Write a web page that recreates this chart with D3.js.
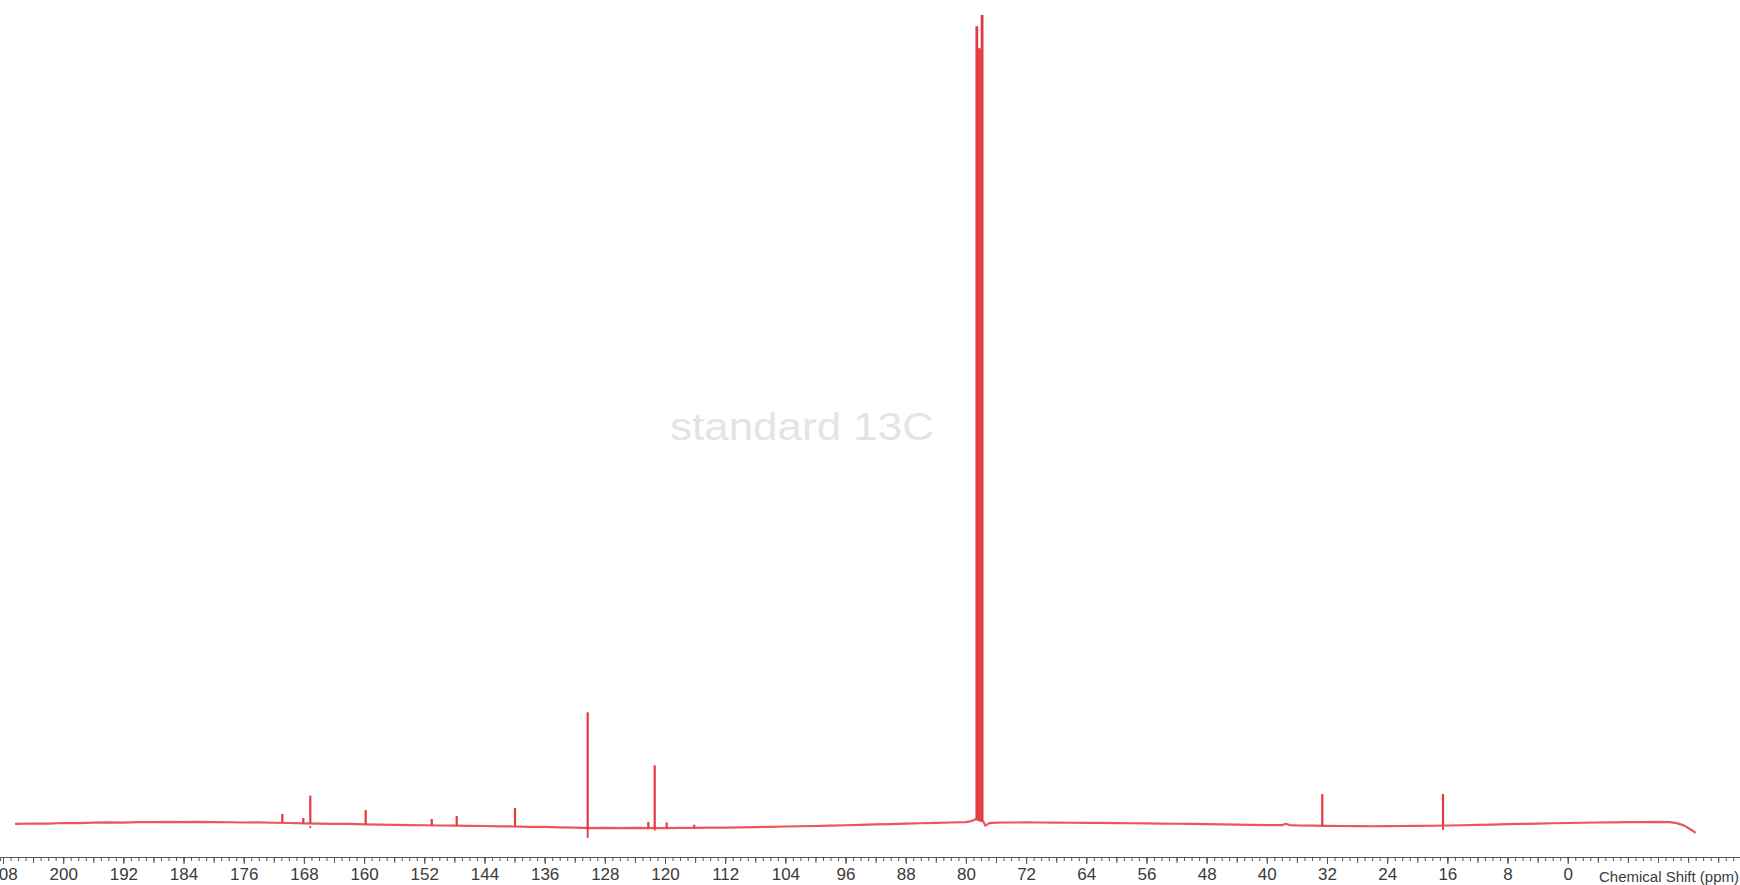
<!DOCTYPE html>
<html>
<head>
<meta charset="utf-8">
<script src="https://cdn.jsdelivr.net/npm/d3@7"></script>
<style>
  html, body { margin: 0; padding: 0; background: #fff; }
  svg { display: block; font-family: "Liberation Sans", Arial, sans-serif; }
</style>
</head>
<body>
<svg id="svg" width="1740" height="885"></svg>
<script>
// baseline of the spectrum: [ppm, intensity]
const baseline = [
  [206.4,0.27],[204,0.31],[202,0.29],[200,0.37],[198,0.35],[196,0.41],[194,0.44],[192,0.42],
  [190,0.49],[188,0.47],[186,0.51],[184,0.48],[182,0.50],[180,0.47],[178,0.46],[176,0.43],
  [174,0.44],[172,0.40],[170,0.37],[168,0.33],[166,0.30],[164,0.27],[162,0.25],[160,0.20],
  [158,0.17],[156,0.14],[154,0.12],[152,0.09],[150,0.06],[148,0.05],[146,0.01],[144,0.00],
  [142,-0.04],[140,-0.06],[138,-0.10],[136,-0.12],[134,-0.16],[132,-0.20],[130,-0.25],[128,-0.23],
  [126,-0.26],[124,-0.24],[122,-0.27],[120,-0.25],[118,-0.24],[116,-0.22],[114,-0.20],[112,-0.19],
  [110,-0.16],[108,-0.13],[106,-0.10],[104,-0.06],[102,-0.03],[100,0.00],[98,0.05],[96,0.09],
  [94,0.14],[92,0.19],[90,0.24],[88,0.29],[86,0.34],[84,0.39],[82,0.43],[80,0.48],
  [79.3,0.60],[79.0,0.72],[78.7,0.85],[77.7,0.55],[77.4,0.05],[76.9,0.35],[76,0.42],[74,0.43],
  [72,0.44],[70,0.43],[68,0.42],[66,0.40],[64,0.39],[62,0.38],[60,0.36],[58,0.34],
  [56,0.32],[54,0.30],[52,0.28],[50,0.25],[48,0.23],[46,0.20],[44,0.17],[42,0.15],
  [40,0.12],[38,0.10],[37.5,0.28],[37,0.12],[36,0.08],[34,0.05],[32,0.02],[30,0.00],
  [28,-0.02],[26,-0.03],[24,-0.02],[22,0.00],[20,0.01],[18,0.03],[16,0.06],[14,0.09],
  [12,0.13],[10,0.18],[8,0.22],[6,0.26],[4,0.30],[2,0.34],[0,0.37],[-2,0.40],
  [-4,0.43],[-6,0.45],[-8,0.47],[-10,0.49],[-12,0.50],[-13.5,0.47],[-14.5,0.35],[-15.5,0.05],
  [-16.3,-0.40],[-17.0,-0.86]
];

// peaks: position, base and top intensity
const peakPpm  = [170.87,168.08,167.15,159.79,151.01,147.69,139.94,130.28,122.22,121.37,119.78,116.11,78.55,78.2,77.85,32.63,16.58];
const peakBase = [0.37,0.33,0.32,0.20,0.08,0.04,-0.06,-0.25,-0.27,-0.26,-0.25,-0.22,0.85,0.70,0.60,0.03,0.05];
const peakTop  = [1.48,0.99,3.74,1.97,0.86,1.23,2.22,14.02,0.49,7.48,0.43,0.15,98.6,95.9,100,3.95,3.95];

// negative dips under some peaks
const dipPpm = [167.15,130.28,121.37,16.58];
const dipVal = [-0.25,-1.48,-0.55,-0.49];

const labelTicks = [208,200,192,184,176,168,160,152,144,136,128,120,112,104,96,88,80,72,64,56,48,40,32,24,16,8,0];
const axisTitle = "Chemical Shift (ppm)";
const chartTitle = "standard 13C";

const width = 1740, height = 885;
const red = "#e5383f";

const svg = d3.select("svg");

const xScale = d3.scaleLinear().domain([208.4, -22.9]).range([0, width]);
const yScale = d3.scaleLinear().domain([0, 100]).range([826, 15]);

// watermark title
svg.append("text")
  .attr("x", 670)
  .attr("y", 440)
  .attr("textLength", 264)
  .attr("lengthAdjust", "spacingAndGlyphs")
  .attr("font-size", 38)
  .attr("fill", "#e4e4e4")
  .text(chartTitle);

// baseline
const line = d3.line()
  .x(d => xScale(d[0]))
  .y(d => yScale(d[1]));

svg.append("path")
  .datum(baseline)
  .attr("d", line)
  .attr("fill", "none")
  .attr("stroke", red)
  .attr("stroke-width", 2.2)
  .attr("stroke-linejoin", "round")
  .attr("opacity", 0.85);

// peaks
svg.append("g")
  .selectAll("line")
  .data(peakPpm)
  .join("line")
  .attr("x1", d => xScale(d))
  .attr("x2", d => xScale(d))
  .attr("y1", (d, i) => yScale(peakBase[i]))
  .attr("y2", (d, i) => yScale(peakTop[i]))
  .attr("stroke", red)
  .attr("stroke-width", (d, i) => peakTop[i] > 50 ? 2.8 : 2.2);

// dips
svg.append("g")
  .selectAll("line")
  .data(dipPpm)
  .join("line")
  .attr("x1", d => xScale(d))
  .attr("x2", d => xScale(d))
  .attr("y1", yScale(0))
  .attr("y2", (d, i) => yScale(dipVal[i]))
  .attr("stroke", red)
  .attr("stroke-width", 1.8);

// axis: minor ticks every 1 ppm, medium every 4, labelled every 8
const axisY = 857;
const axisG = svg.append("g").attr("transform", `translate(0, ${axisY})`);

axisG.append("g")
  .call(d3.axisBottom(xScale).tickValues(d3.range(-22, 209, 1)).tickSize(4).tickFormat(""))
  .call(g => g.select(".domain").attr("stroke", "#555"));
axisG.append("g")
  .call(d3.axisBottom(xScale).tickValues(d3.range(-20, 209, 4)).tickSize(6).tickFormat(""))
  .call(g => g.select(".domain").remove());
axisG.append("g")
  .call(d3.axisBottom(xScale).tickValues(labelTicks).tickSize(7).tickPadding(4))
  .call(g => g.select(".domain").remove())
  .call(g => g.selectAll("text").attr("font-size", 17).attr("fill", "#3a3a3a")
    .attr("font-family", "Liberation Sans, Arial, sans-serif"));
axisG.selectAll(".tick line").attr("stroke", "#555");

svg.append("text")
  .attr("x", 1739)
  .attr("y", 882)
  .attr("text-anchor", "end")
  .attr("font-size", 15)
  .attr("fill", "#3a3a3a")
  .text(axisTitle);
</script>
</body>
</html>
